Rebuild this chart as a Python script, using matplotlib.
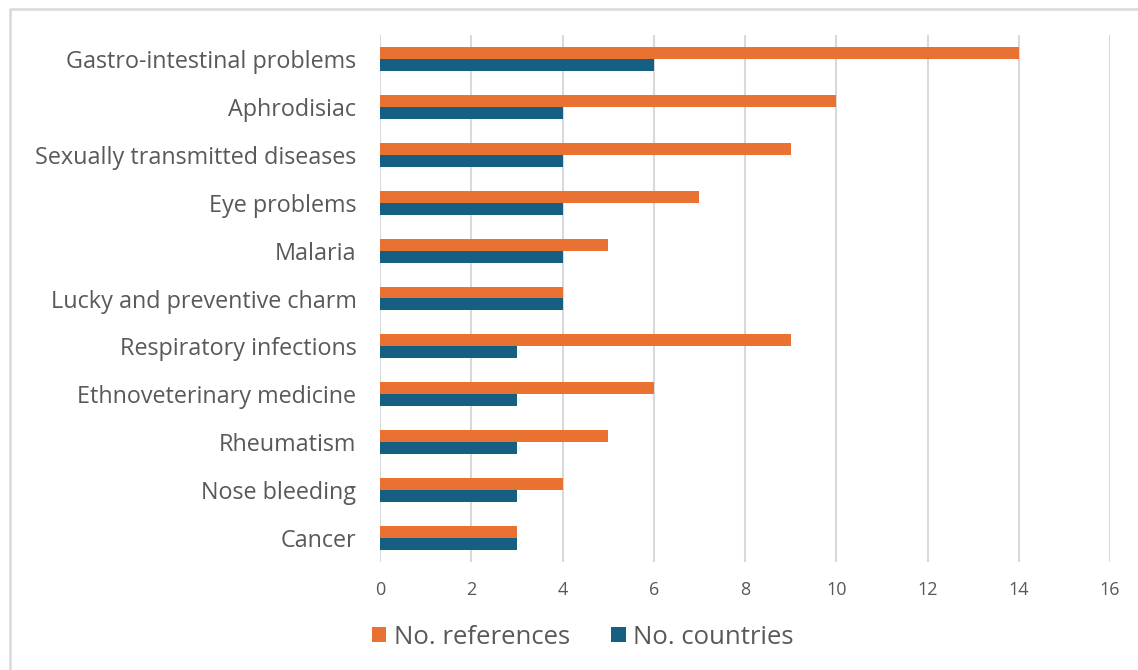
import matplotlib
matplotlib.use("Agg")
import matplotlib.pyplot as plt
import numpy as np
from matplotlib.lines import Line2D

categories = ["Gastro-intestinal problems", "Aphrodisiac", "Sexually transmitted diseases",
              "Eye problems", "Malaria", "Lucky and preventive charm", "Respiratory infections",
              "Ethnoveterinary medicine", "Rheumatism", "Nose bleeding", "Cancer"]
references = [14, 10, 9, 7, 5, 4, 9, 6, 5, 4, 3]
countries = [6, 4, 4, 4, 4, 4, 3, 3, 3, 3, 3]
xticks = [0, 2, 4, 6, 8, 10, 12, 14, 16]

plt.rcParams['font.family'] = ['Open Sans', 'DejaVu Sans']
orange = "#E97132"
blue = "#156082"
text_col = "#595959"

fig = plt.figure(figsize=(11.38, 6.70), dpi=100)
# outer frame (left and top edges visible)
fig.lines.append(Line2D([10/1138, 10/1138, 1.0], [0.0, 1 - 9/670, 1 - 9/670],
                        transform=fig.transFigure, color="#D9D9D9", linewidth=1.8))
ax = fig.add_axes([380/1138, 1 - 562/670, (1110-380)/1138, (562-35)/670])

y = np.arange(len(categories))[::-1]
h = 0.25
ax.barh(y + h/2, references, height=h, color=orange, label="No. references", zorder=3)
ax.barh(y - h/2, countries, height=h, color=blue, label="No. countries", zorder=3)

ax.set_xlim(0, 16)
ax.set_ylim(-0.5, len(categories) - 0.5)
ax.set_xticks(xticks)
ax.set_yticks(y)
ax.set_yticklabels(categories, fontsize=16.8, color=text_col)
ax.tick_params(axis='x', labelsize=13, colors=text_col, length=0, pad=14)
ax.tick_params(axis='y', length=0, pad=17)
ax.grid(axis='x', color="#D9D9D9", linewidth=1.5, zorder=0)
for s in ax.spines.values():
    s.set_visible(False)

leg = fig.legend(loc='center', bbox_to_anchor=(583/1138, 1 - 637/670), ncol=2, frameon=False,
                 fontsize=18.5, handlelength=0.55, handleheight=0.55, columnspacing=1.6, handletextpad=0.3)
for t in leg.get_texts():
    t.set_color(text_col)

fig.savefig("out.png", dpi=100)
